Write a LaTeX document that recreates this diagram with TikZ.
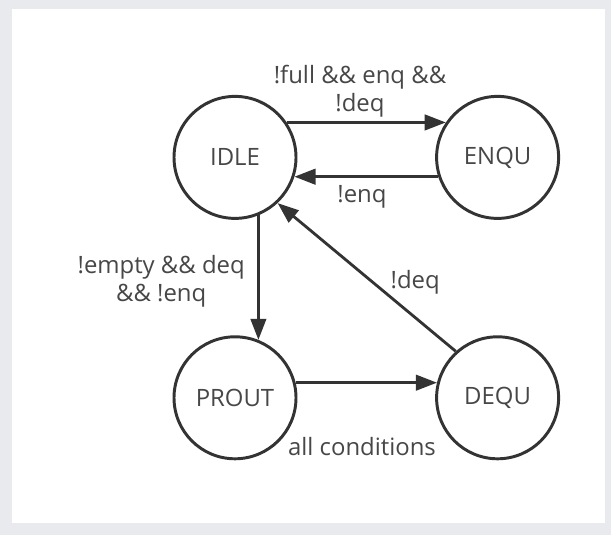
\documentclass[tikz,border=0pt]{standalone}
\usepackage{fontspec}
\setmainfont{Open Sans}
\usetikzlibrary{arrows.meta}
\definecolor{edgegray}{HTML}{333333}
\definecolor{textgray}{HTML}{474747}
\definecolor{framegray}{HTML}{E9EAED}

\begin{document}
\begin{tikzpicture}[
  state/.style={draw=edgegray, circle, line width=2.1pt, minimum size=3.05cm, inner sep=0pt, text=textgray},
  trans/.style={draw=edgegray, line width=2pt, -{Triangle[length=15pt,width=11pt]}},
  cond/.style={align=center, text=textgray, inner sep=0pt},
  font=\fontsize{17}{20}\selectfont]

\fill[framegray] (0,0) rectangle (15.275,13.375);
\fill[white] (0.3,0.3) rectangle (15.125,13.15);

\node[state] (idle) at (5.875,9.44) {IDLE};
\node[state] (enqu) at (12.44,9.44) {ENQU};
\node[state] (prout) at (5.875,3.43) {PROUT};
\node[state] (dequ) at (12.44,3.43) {DEQU};

\draw [trans] (idle.34) -- (enqu.146);
\draw [trans] (enqu.198) -- (idle.-18);
\draw [trans] (idle.-68) -- (prout.68);
\draw [trans] (prout.14) -- (dequ.166);
\draw [trans] (dequ.132) -- (idle.-47);

\node[cond] (fullenq) at (9.0,11.1) {!full \&\& enq \&\&\\!deq};
\node[cond] (notenq) at (9.05,8.45) {!enq};
\node[cond] (notempty) at (4.03,6.34) {!empty \&\& deq\\\&\& !enq};
\node[cond] (notdeq) at (10.38,6.32) {!deq};
\node[cond] (allcond) at (9.05,2.2) {all conditions};
\end{tikzpicture}
\end{document}
